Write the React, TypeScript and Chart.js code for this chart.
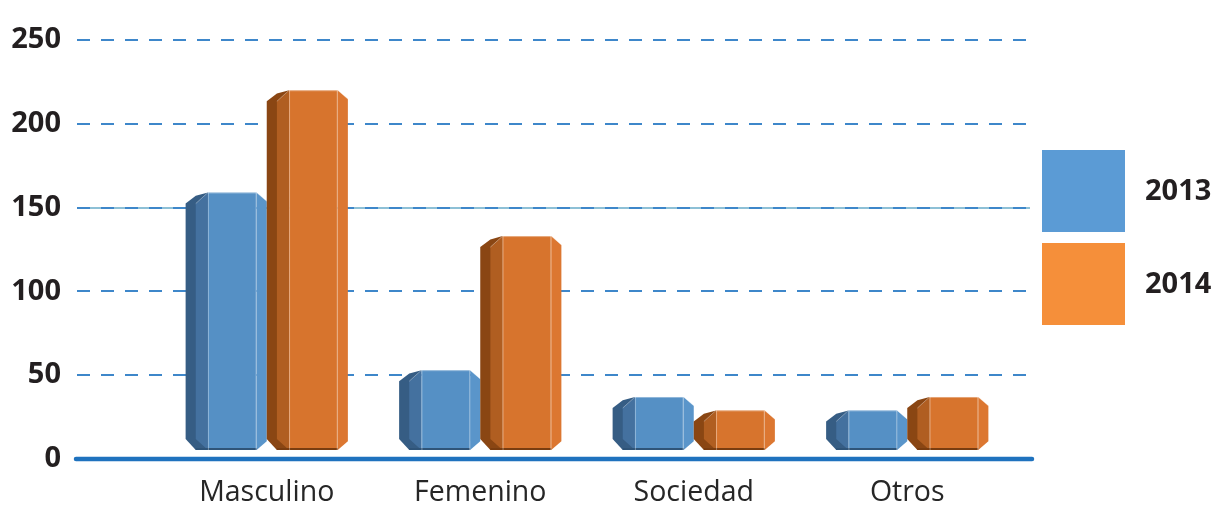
import React, { useEffect, useRef } from "react";
import { Chart, registerables } from "chart.js";

Chart.register(...registerables);

const categories = ["Masculino", "Femenino", "Sociedad", "Otros"];
const seriesLabels = ["2013", "2014"];
const values2013 = [159, 53, 37, 29];
const values2014 = [220, 133, 29, 37];
const yTickValues = [0, 50, 100, 150, 200, 250];

const palettes = [
  { legend: "#5B9BD5", front: "#5590C5", mid: "#44719F", dark: "#365D84", right: "#5A95CA", bottom: "#2F5478" },
  { legend: "#F58F3A", front: "#D7742D", mid: "#B05E21", dark: "#8A4613", right: "#DC7731", bottom: "#7A3D10" },
];

const FONT = '"Open Sans", "DejaVu Sans", sans-serif';

function poly(ctx: CanvasRenderingContext2D, color: string, pts: number[][]) {
  ctx.beginPath();
  ctx.moveTo(pts[0][0], pts[0][1]);
  for (let i = 1; i < pts.length; i++) ctx.lineTo(pts[i][0], pts[i][1]);
  ctx.closePath();
  ctx.fillStyle = color;
  ctx.fill();
}

const gridPlugin = {
  id: "customGrid",
  beforeDatasetsDraw(chart: any) {
    const ctx = chart.ctx as CanvasRenderingContext2D;
    const ys = chart.scales.y;
    const left = Math.round(chart.chartArea.left - 83);
    const right = Math.round(chart.chartArea.right + 16);
    ctx.save();
    yTickValues.forEach((v) => {
      const py = Math.round(ys.getPixelForValue(v));
      if (v === 0) {
        ctx.beginPath();
        ctx.setLineDash([]);
        ctx.lineWidth = 4.5;
        ctx.lineCap = "round";
        ctx.strokeStyle = "#1F72BE";
        ctx.moveTo(left - 1, py);
        ctx.lineTo(right + 2, py);
        ctx.stroke();
        return;
      }
      if (v === 150) {
        ctx.beginPath();
        ctx.setLineDash([]);
        ctx.lineWidth = 2;
        ctx.lineCap = "butt";
        ctx.strokeStyle = "#8DC0D6";
        ctx.moveTo(left, py);
        ctx.lineTo(right, py);
        ctx.stroke();
      }
      ctx.beginPath();
      ctx.setLineDash([13, 11]);
      ctx.lineWidth = 2;
      ctx.lineCap = "butt";
      ctx.strokeStyle = "#3E87CA";
      ctx.moveTo(left, py);
      ctx.lineTo(right, py);
      ctx.stroke();
    });
    ctx.restore();
  },
};

const bevelPlugin = {
  id: "bevelBars",
  beforeDatasetDraw() {
    return false;
  },
  afterDatasetsDraw(chart: any) {
    const ctx = chart.ctx as CanvasRenderingContext2D;
    chart.data.datasets.forEach((_ds: any, di: number) => {
      const meta = chart.getDatasetMeta(di);
      const pal = palettes[di];
      meta.data.forEach((el: any) => {
        const { x, y, base, width } = el.getProps(["x", "y", "base", "width"], true);
        const x0 = x - width / 2;
        const x1 = x + width / 2;
        const t = y;
        const b = base - 9;
        const hgt = b - t;
        const h = Math.min(11, hgt / 3.5);
        const a = x0 + width * 0.125;
        const c = x0 + width * 0.275;
        const d = x1 - width * 0.125;
        ctx.save();
        poly(ctx, pal.dark, [[x0, t + h], [a, t + h * 0.3], [c, t], [c, b], [a, b], [x0, b - h]]);
        poly(ctx, pal.mid, [[a, t + h], [c, t], [c, b], [a, b - h]]);
        ctx.fillStyle = pal.front;
        ctx.fillRect(c, t, d - c, b - t);
        poly(ctx, pal.right, [[d, t], [x1, t + h * 0.8], [x1, b - h * 0.8], [d, b]]);
        ctx.strokeStyle = pal.bottom;
        ctx.lineWidth = 2;
        ctx.beginPath();
        ctx.moveTo(a, b - 1);
        ctx.lineTo(d, b - 1);
        ctx.stroke();
        ctx.strokeStyle = "rgba(255,255,255,0.35)";
        ctx.lineWidth = 1;
        ctx.beginPath();
        ctx.moveTo(c + 0.5, t);
        ctx.lineTo(c + 0.5, b);
        ctx.moveTo(d - 0.5, t);
        ctx.lineTo(d - 0.5, b);
        ctx.moveTo(a, t + h);
        ctx.lineTo(c, t);
        ctx.moveTo(c, t + 0.5);
        ctx.lineTo(d, t + 0.5);
        ctx.moveTo(d, t);
        ctx.lineTo(x1, t + h * 0.8);
        ctx.stroke();
        ctx.restore();
      });
    });
  },
};

const legendPlugin = {
  id: "customLegend",
  afterDraw(chart: any) {
    const ctx = chart.ctx as CanvasRenderingContext2D;
    const bx = chart.chartArea.right + 28;
    const by = chart.chartArea.top + 110;
    ctx.save();
    chart.data.datasets.forEach((ds: any, i: number) => {
      const top = by + i * 93;
      ctx.fillStyle = palettes[i].legend;
      ctx.fillRect(bx, top, 83, 82);
      ctx.fillStyle = "#231F20";
      ctx.font = `bold 29px ${FONT}`;
      ctx.textBaseline = "middle";
      ctx.textAlign = "left";
      ctx.fillText(ds.label, bx + 103, top + 42);
    });
    ctx.restore();
  },
};

export default function App() {
  const ref = useRef<HTMLCanvasElement>(null);

  useEffect(() => {
    const chart = new Chart(ref.current as HTMLCanvasElement, {
      type: "bar",
      data: {
        labels: categories,
        datasets: [
          { label: seriesLabels[0], data: values2013, backgroundColor: palettes[0].legend },
          { label: seriesLabels[1], data: values2014, backgroundColor: palettes[1].legend },
        ],
      },
      options: {
        responsive: false,
        devicePixelRatio: 1,
        animation: false,
        events: [],
        datasets: { bar: { categoryPercentage: 0.76, barPercentage: 1.0 } } as any,
        layout: { padding: { top: 32, right: 197, left: 0, bottom: 0 } },
        plugins: {
          legend: { display: false },
          tooltip: { enabled: false },
        },
        scales: {
          x: {
            type: "category",
            grid: { display: false, drawTicks: false },
            border: { display: false },
            ticks: {
              font: { family: FONT, size: 28.5 },
              color: "#262626",
              padding: 17,
              maxRotation: 0,
            },
            afterFit: (s: any) => {
              s.height = 47;
              s.paddingLeft = 0;
              s.paddingRight = 0;
            },
          },
          y: {
            type: "linear",
            min: 0,
            max: 250,
            grid: { display: false, drawTicks: false },
            border: { display: false },
            ticks: {
              font: { family: FONT, size: 29, weight: "bold" },
              color: "#231F20",
              padding: 99,
            },
            afterBuildTicks: (s: any) => {
              s.ticks = yTickValues.map((v) => ({ value: v }));
            },
            afterFit: (s: any) => {
              s.width = 152;
              s.paddingTop = 0;
              s.paddingBottom = 0;
            },
          },
        },
      },
      plugins: [gridPlugin, bevelPlugin, legendPlugin],
    });
    return () => chart.destroy();
  }, []);

  return (
    <>
      <style>{"html,body{overflow:hidden}"}</style>
      <canvas
        ref={ref}
        width={1203}
        height={498}
        style={{ display: "block", width: 1203, height: 498 }}
      />
    </>
  );
}
